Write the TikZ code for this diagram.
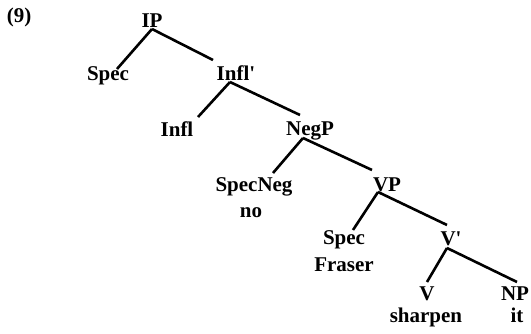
\documentclass[tikz,border=0pt]{standalone}
\usepackage{fontspec}
\setmainfont{Liberation Serif}
\usetikzlibrary{calc}
\tikzset{
  lbl/.style={anchor=base, inner sep=0pt, outer sep=0pt, font=\bfseries\fontsize{21}{25}\selectfont},
  branch/.style={line width=2.6pt}
}
\begin{document}
\begin{tikzpicture}[x=1pt,y=-1pt]
\useasboundingbox (0,0) rectangle (531,333);
\node[lbl] (ex) at (19,22) {(9)};
\node[lbl] (IP) at (152,27) {IP};
\node[lbl] (SpecA) at (108,80) {Spec};
\node[lbl] (InflBar) at (236,80) {Infl\textquotesingle};
\node[lbl] (Infl) at (177,136) {Infl};
\node[lbl] (NegP) at (310,135) {NegP};
\node[lbl] (SpecNeg) at (254,191) {SpecNeg};
\node[lbl] (no) at (251,217) {no};
\node[lbl] (VP) at (387,191) {VP};
\node[lbl] (SpecB) at (344,244) {Spec};
\node[lbl] (Fraser) at (344,271) {Fraser};
\node[lbl] (VBar) at (451,245) {V\textquotesingle};
\node[lbl] (V) at (427,300) {V};
\node[lbl] (sharpen) at (426,322) {sharpen};
\node[lbl] (NP) at (515,300) {NP};
\node[lbl] (it) at (517,322) {it};
\draw[branch] ($(IP.base)+(0,2)$) -- ($(SpecA.base)+(9,-11)$);
\draw[branch] ($(IP.base)+(0,2)$) -- ($(InflBar.base)+(-23,-20)$);
\draw[branch] ($(InflBar.base)+(-6,2)$) -- ($(Infl.base)+(21,-19)$);
\draw[branch] ($(InflBar.base)+(-6,2)$) -- ($(NegP.base)+(-10,-20)$);
\draw[branch] ($(NegP.base)+(-7,3)$) -- ($(SpecNeg.base)+(19,-18)$);
\draw[branch] ($(NegP.base)+(-7,3)$) -- ($(VP.base)+(-15,-21)$);
\draw[branch] ($(VP.base)+(-9,1)$) -- ($(SpecB.base)+(9,-14)$);
\draw[branch] ($(VP.base)+(-9,1)$) -- ($(VBar.base)+(-4,-20)$);
\draw[branch] ($(VBar.base)+(-4,3)$) -- ($(V.base)+(0,-18)$);
\draw[branch] ($(VBar.base)+(-4,3)$) -- ($(NP.base)+(2,-18)$);
\end{tikzpicture}
\end{document}
